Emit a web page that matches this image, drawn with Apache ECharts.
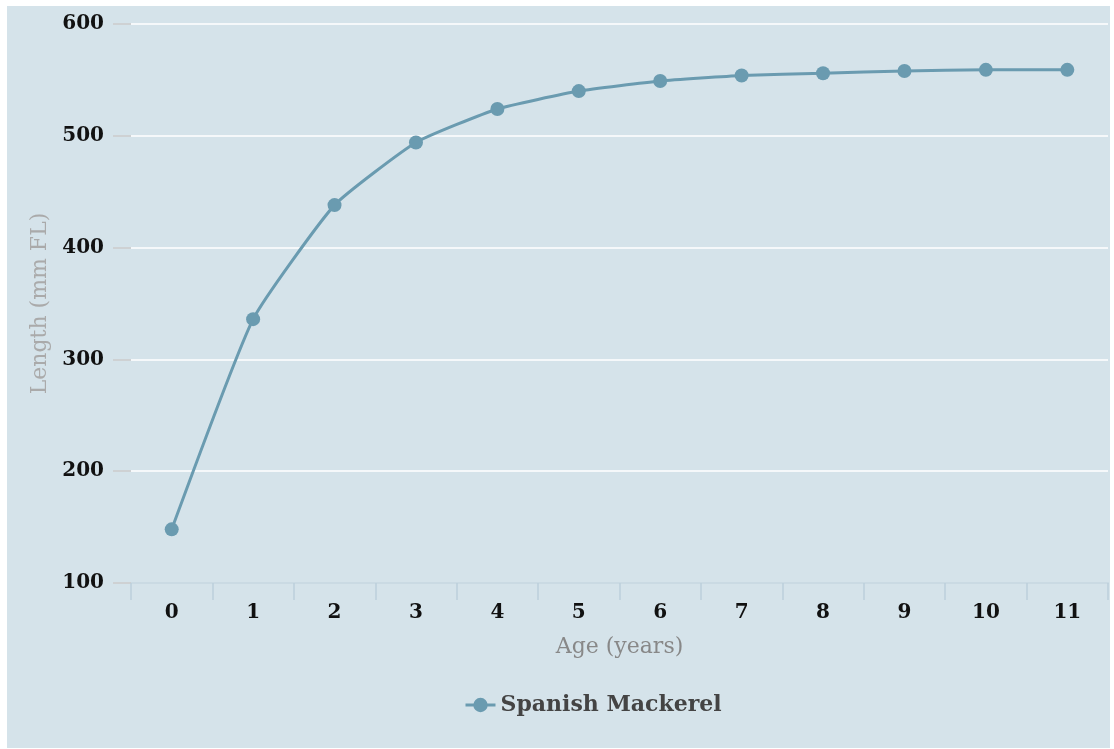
<!DOCTYPE html>
<html>
<head>
<meta charset="utf-8">
<script src="https://cdn.jsdelivr.net/npm/echarts@6/dist/echarts.min.js"></script>
<style>
html,body{margin:0;padding:0;background:#ffffff;width:1114px;height:749px;overflow:hidden;}
#chart{position:absolute;left:7px;top:6px;width:1103px;height:742px;background:#d5e3ea;}
</style>
</head>
<body>
<div id="chart"></div>
<script>
const ages = ['0','1','2','3','4','5','6','7','8','9','10','11'];
const lengths = [148, 336, 438, 494, 524, 540, 549, 554, 556, 558, 559, 559];
const seriesName = 'Spanish Mackerel';
const yTicks = {min: 100, max: 600, interval: 100};

const chart = echarts.init(document.getElementById('chart'), null, {renderer: 'canvas'});
const serif = '"DejaVu Serif", serif';
chart.setOption({
  backgroundColor: '#d5e3ea',
  animation: false,
  grid: {left: 124, top: 18, width: 977, height: 559, containLabel: false},
  legend: {
    data: [seriesName],
    left: 452, top: 683,
    itemWidth: 30, itemHeight: 18, itemGap: 10,
    lineStyle: {width: 3},
    textStyle: {fontFamily: serif, fontWeight: 'bold', fontSize: 22, color: '#444444'}
  },
  xAxis: {
    type: 'category',
    data: ages,
    boundaryGap: true,
    name: 'Age (years)',
    nameLocation: 'middle',
    nameGap: 53,
    nameTextStyle: {fontFamily: serif, fontSize: 22, color: '#888888'},
    axisLine: {show: true, lineStyle: {color: '#bccfdc', width: 1.5}},
    axisTick: {show: true, length: 17, lineStyle: {color: '#bccfdc', width: 1.5}},
    axisLabel: {fontFamily: serif, fontWeight: 'bold', fontSize: 20, color: '#111111', margin: 20},
    splitLine: {show: false}
  },
  yAxis: {
    type: 'value',
    min: yTicks.min, max: yTicks.max, interval: yTicks.interval,
    name: 'Length (mm FL)',
    nameLocation: 'middle',
    nameGap: 77,
    nameTextStyle: {fontFamily: serif, fontSize: 22, color: '#aaaaaa'},
    axisLine: {show: false},
    axisTick: {show: true, length: 18, lineStyle: {color: '#cccccc', width: 1.5}},
    axisLabel: {fontFamily: serif, fontWeight: 'bold', fontSize: 20, color: '#111111', margin: 27, padding: [6, 0, 0, 0]},
    splitLine: {show: true, lineStyle: {color: '#ffffff', width: 1.5}}
  },
  series: [{
    name: seriesName,
    type: 'line',
    data: lengths,
    smooth: 0.15,
    symbol: 'circle',
    symbolSize: 14,
    itemStyle: {color: '#6a9bb0'},
    lineStyle: {color: '#6a9bb0', width: 3}
  }]
});
</script>
</body>
</html>
